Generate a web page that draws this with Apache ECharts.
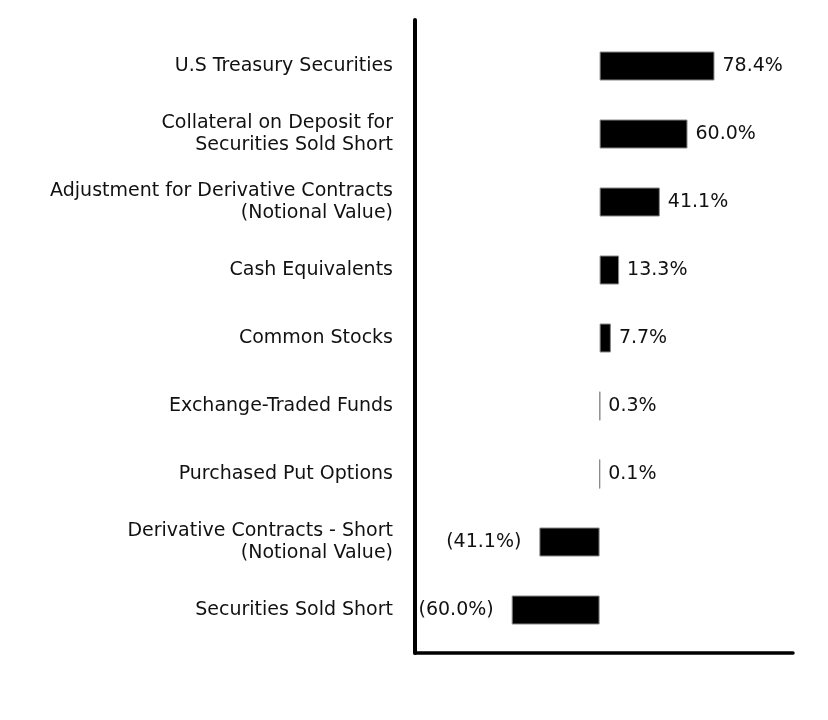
<!DOCTYPE html>
<html>
<head>
<meta charset="utf-8">
<script src="https://cdn.jsdelivr.net/npm/echarts@6/dist/echarts.min.js"></script>
<style>
html,body{margin:0;padding:0;background:#fff;}
#c{width:828px;height:720px;}
</style>
</head>
<body>
<div id="c"></div>
<script>
const categories = [
  "U.S Treasury Securities",
  "Collateral on Deposit for\nSecurities Sold Short",
  "Adjustment for Derivative Contracts\n(Notional Value)",
  "Cash Equivalents",
  "Common Stocks",
  "Exchange-Traded Funds",
  "Purchased Put Options",
  "Derivative Contracts - Short\n(Notional Value)",
  "Securities Sold Short"
];
const values = [78.4, 60.0, 41.1, 13.3, 7.7, 0.3, 0.1, -41.1, -60.0];

const FONT = "'DejaVu Sans', sans-serif";
const chart = echarts.init(document.getElementById('c'), null, {renderer: 'canvas'});

function fmt(v) {
  return v < 0 ? '(' + Math.abs(v).toFixed(1) + '%)' : v.toFixed(1) + '%';
}

const option = {
  backgroundColor: '#fff',
  animation: false,
  grid: [
    {left: 415, right: 35, top: 32, height: 612},
    {left: 415, right: 35, top: 20, bottom: 67}
  ],
  xAxis: [
    {gridIndex: 0, type: 'value', min: -126, max: 132,
     axisLine: {show: false}, axisTick: {show: false}, axisLabel: {show: false}, splitLine: {show: false}},
    {gridIndex: 1, type: 'value', min: 0, max: 1,
     axisLine: {show: true, onZero: false, lineStyle: {color: '#000', width: 3.5}},
     axisTick: {show: false}, axisLabel: {show: false}, splitLine: {show: false}}
  ],
  yAxis: [
    {gridIndex: 0, type: 'category', data: categories, inverse: true,
     axisLine: {show: false}, axisTick: {show: false}, splitLine: {show: false},
     axisLabel: {margin: 22, color: '#111', fontFamily: FONT, fontSize: 19, lineHeight: 22, align: 'right', padding: [3, 0, 0, 0]}},
    {gridIndex: 1, type: 'value', min: 0, max: 1,
     axisLine: {show: true, onZero: false, lineStyle: {color: '#000', width: 4}},
     axisTick: {show: false}, axisLabel: {show: false}, splitLine: {show: false}}
  ],
  series: [{
    type: 'bar',
    xAxisIndex: 0, yAxisIndex: 0,
    barWidth: 29,
    data: values.map(v => ({
      value: v,
      label: {position: v < 0 ? 'left' : 'right', distance: v < 0 ? 18 : 8}
    })),
    itemStyle: {color: '#000', borderColor: '#888', borderWidth: 1},
    label: {
      show: true, color: '#111', fontFamily: FONT, fontSize: 19, padding: [3, 0, 0, 0],
      formatter: p => fmt(p.value)
    }
  }]
};
chart.setOption(option);
</script>
</body>
</html>
